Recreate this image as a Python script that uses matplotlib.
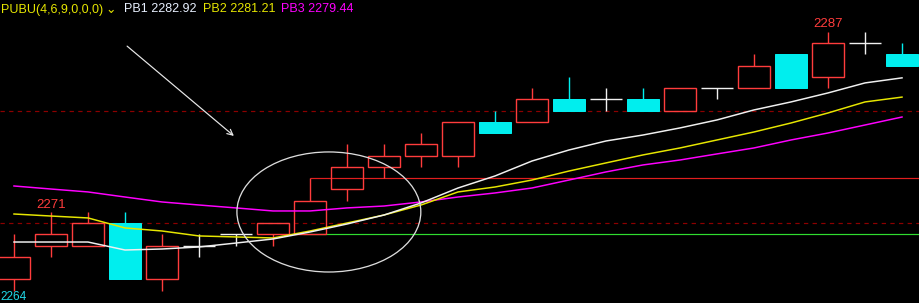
import matplotlib
matplotlib.use("Agg")
from matplotlib import pyplot as plt
from matplotlib.patches import Rectangle, Ellipse
import numpy as np

plt.rcParams['font.family'] = ['Liberation Sans', 'DejaVu Sans']

# candles: open, high, low, close
opens  = [2265, 2268, 2268, 2270, 2265, 2268, 2269, 2269, 2269, 2273, 2275, 2276, 2276,
          2279, 2279, 2281, 2281, 2281, 2280, 2282, 2282, 2285, 2283, 2286, 2285]
highs  = [2269, 2271, 2271, 2271, 2269, 2269, 2269, 2270, 2274, 2277, 2277, 2278, 2279,
          2280, 2282, 2283, 2282, 2282, 2282, 2282, 2285, 2285, 2287, 2287, 2286]
lows   = [2264, 2267, 2268, 2265, 2264, 2267, 2268, 2268, 2269, 2272, 2274, 2275, 2275,
          2278, 2279, 2280, 2280, 2280, 2280, 2281, 2282, 2282, 2282, 2285, 2284]
closes = [2267, 2269, 2270, 2265, 2268, 2268, 2269, 2270, 2272, 2275, 2276, 2277, 2279,
          2278, 2281, 2280, 2281, 2280, 2282, 2282, 2284, 2282, 2286, 2286, 2284]

# PUBU lines
pb1 = [2268.33, 2268.33, 2268.33, 2267.62, 2267.71, 2267.89, 2268.24, 2268.60, 2269.22,
       2269.93, 2270.73, 2271.80, 2273.13, 2274.20, 2275.53, 2276.51, 2277.31, 2277.84,
       2278.47, 2279.18, 2280.07, 2280.78, 2281.58, 2282.47, 2282.92]
pb2 = [2270.82, 2270.64, 2270.47, 2269.58, 2269.31, 2268.87, 2268.78, 2268.69, 2269.31,
       2270.02, 2270.73, 2271.62, 2272.78, 2273.22, 2273.84, 2274.64, 2275.36, 2276.07,
       2276.69, 2277.40, 2278.11, 2278.91, 2279.80, 2280.78, 2281.21]
pb3 = [2273.31, 2273.04, 2272.78, 2272.33, 2271.89, 2271.62, 2271.36, 2271.09, 2271.09,
       2271.36, 2271.53, 2271.89, 2272.33, 2272.69, 2273.13, 2273.84, 2274.56, 2275.18,
       2275.62, 2276.16, 2276.69, 2277.40, 2278.02, 2278.73, 2279.44]

hi_label, lo_label = 2287, 2271
bottom_label = "2264"
dash_levels = [2280, 2270]
red_level, green_level = 2274, 2269

RED = '#ff3c3c'
CYAN = '#00eeee'
WHITE = '#f0f0f0'

fig = plt.figure(figsize=(9.2, 3.03), dpi=100, facecolor='black')
ax = fig.add_axes([0, 0, 1, 1], facecolor='black')
ax.set_xlim(-0.378, 24.486)
ax.set_ylim(2262.91, 2289.84)
ax.axis('off')

px = 1 / 1.389  # one pixel in points
w = 0.89

for lv in dash_levels:
    ax.axhline(lv, color='#8c0000', lw=1.2 * px, ls=(0, (3.6, 3.6)), zorder=1)
ax.hlines(red_level, 8, 24.6, color='#e01e1e', lw=1.2 * px, zorder=1)
ax.hlines(green_level, 7.8, 24.6, color='#30dc30', lw=1.2 * px, zorder=1)

x = np.arange(len(opens))
for i in x:
    o, h, l, c = opens[i], highs[i], lows[i], closes[i]
    if c > o:
        ax.vlines(i, c, h, color=RED, lw=1.4 * px, zorder=3)
        ax.vlines(i, l, o, color=RED, lw=1.4 * px, zorder=3)
        ax.add_patch(Rectangle((i - w / 2, o), w, c - o, facecolor='none',
                               edgecolor=RED, lw=1.4 * px, zorder=3))
    elif c < o:
        ax.vlines(i, l, h, color=CYAN, lw=1.4 * px, zorder=3)
        ax.add_patch(Rectangle((i - w / 2, c), w, o - c, facecolor=CYAN,
                               edgecolor=CYAN, lw=1 * px, zorder=3))
    else:
        ax.vlines(i, l, h, color=WHITE, lw=1.4 * px, zorder=3)
        ax.hlines(o, i - w / 2, i + w / 2, color=WHITE, lw=1.4 * px, zorder=3)

ax.plot(x, pb3, color='#ff00ff', lw=1.5 * px, zorder=4)
ax.plot(x, pb2, color='#e6e600', lw=1.5 * px, zorder=4)
ax.plot(x, pb1, color=WHITE, lw=1.5 * px, zorder=4)

ax.add_patch(Ellipse((8.51, 2271.0), 4.97, 10.67, fill=False, edgecolor='#dcdcdc',
                     lw=1.3 * px, zorder=5))
ax.annotate('', xy=(6.0, 2277.6), xytext=(3.0, 2285.9),
            arrowprops=dict(arrowstyle='->', color='#e8e8e8', lw=1.2 * px,
                            mutation_scale=10))

ax.text(1, 2271.6, str(lo_label), color=RED, fontsize=9.5, ha='center', va='center')
ax.text(22, 2287.7, str(hi_label), color=RED, fontsize=9.5, ha='center', va='center')
ax.text(-0.36, 2262.95, bottom_label, color='#20d8e8', fontsize=8.5, ha='left', va='bottom')

ty = 1 - 9.5 / 303
fig.text(1 / 920, ty, 'PUBU(4,6,9,0,0,0)', color='#e6e600', fontsize=9, va='center')
fig.text(105 / 920, ty, '\u2304', color='#e6e600', fontsize=9, va='center',
         family=['DejaVu Sans'])
fig.text(124 / 920, ty, 'PB1 2282.92', color='#e8f0ff', fontsize=9, va='center')
fig.text(203 / 920, ty, 'PB2 2281.21', color='#e6e600', fontsize=9, va='center')
fig.text(281 / 920, ty, 'PB3 2279.44', color='#ff00ff', fontsize=9, va='center')

fig.savefig('out.png', dpi=100, facecolor='black')
